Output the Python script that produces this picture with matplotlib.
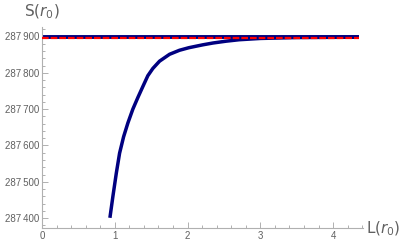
import matplotlib
matplotlib.use("Agg")
from matplotlib import pyplot as plt
from matplotlib.ticker import MultipleLocator, FuncFormatter

# lower branch of S(r0) against L(r0)
curve_x = [0.933, 0.974, 1.021, 1.066, 1.121, 1.18, 1.248, 1.317, 1.385,
           1.454, 1.523, 1.615, 1.753, 1.889, 2.017, 2.21, 2.35, 2.53,
           2.71, 3.0, 3.5, 4.35]
curve_y = [287401, 287460, 287524, 287579, 287624, 287662, 287700, 287732,
           287762, 287792, 287812, 287832, 287851, 287862, 287869, 287877,
           287882, 287887, 287891, 287894.5, 287897, 287898]

# upper branch (blue) and reference level (red dashed)
upper_x = [0.0, 4.35]
upper_y = [287898, 287898]
ref_x = [0.0, 4.35]
ref_y = [287896, 287896]

fig = plt.figure(figsize=(4.09, 2.49), dpi=100)
ax = fig.add_axes([42/409, 21/249, 321/409, 201/249])

ax.plot(upper_x, upper_y, color="#000080", lw=2.8, solid_capstyle="butt")
ax.plot(curve_x, curve_y, color="#000080", lw=2.5, solid_capstyle="butt",
        solid_joinstyle="round")
ax.plot(ref_x, ref_y, color="#ff0000", lw=1.6, dashes=(3.0, 0.9), zorder=5)

ax.set_xlim(0, 4.41)
ax.set_ylim(287373, 287926)

for s in ["top", "right"]:
    ax.spines[s].set_visible(False)
for s in ["left", "bottom"]:
    ax.spines[s].set_color("#b0b0b0")
    ax.spines[s].set_linewidth(0.8)

ax.xaxis.set_major_locator(MultipleLocator(1))
ax.xaxis.set_minor_locator(MultipleLocator(0.2))
ax.yaxis.set_major_locator(MultipleLocator(100))
ax.yaxis.set_minor_locator(MultipleLocator(20))
ax.yaxis.set_major_formatter(FuncFormatter(
    lambda v, p: "{:,}".format(int(round(v))).replace(",", "\u2009")))
ax.tick_params(which="both", direction="in", color="#b0b0b0",
               labelcolor="#606060", labelsize=7, width=0.7)
ax.tick_params(which="major", length=4, pad=2)
ax.tick_params(which="minor", length=2.2)
for lab in ax.get_xticklabels() + ax.get_yticklabels():
    lab.set_family("Liberation Sans")

fig.text(24/409, 1 - 12/249, "S($r_0$)", fontsize=11, color="#606060",
         va="center", ha="left")
fig.text(366/409, 1 - 229/249, "L($r_0$)", fontsize=11, color="#606060",
         va="center", ha="left")

fig.savefig("out.png", dpi=100)
